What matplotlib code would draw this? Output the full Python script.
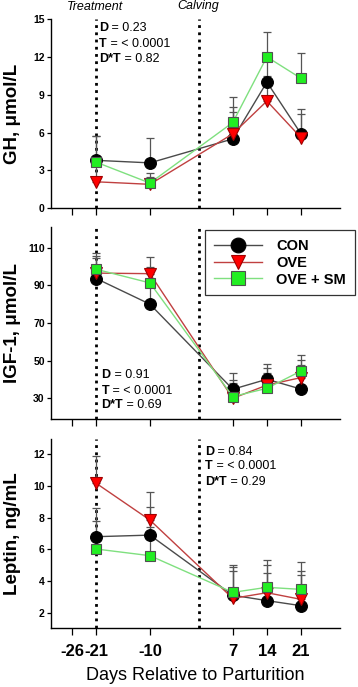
import numpy as np
import matplotlib
matplotlib.use("Agg")
import matplotlib.pyplot as plt

plt.rcParams.update({
    "font.family": ["Liberation Sans", "DejaVu Sans"],
    "axes.linewidth": 1.0,
    "axes.unicode_minus": False,
})

# ========= DATA
days = [-21, -10, 7, 14, 21]
xtick_vals = [-26, -21, -10, 7, 14, 21]
groups = ["CON", "OVE", "OVE + SM"]

gh_con = [3.8, 3.6, 5.5, 10.0, 5.9]
gh_ove = [2.1, 1.9, 5.9, 8.5, 5.6]
gh_sm = [3.65, 2.0, 6.8, 12.0, 10.3]
gh_con_err = [1.9, 2.0, 2.1, 2.0, 1.95]
gh_ove_err = [2.0, 0.6, 2.1, 2.0, 1.9]
gh_sm_err = [2.1, 0.8, 2.05, 2.0, 2.0]

igf_con = [93.6, 80.0, 34.8, 40.1, 34.9]
igf_ove = [96.5, 96.2, 30.0, 37.0, 41.0]
igf_sm = [98.5, 91.3, 30.9, 35.3, 44.5]
igf_con_err = [11.0, 9.0, 8.4, 8.1, 12.8]
igf_ove_err = [9.0, 8.8, 9.7, 8.9, 9.3]
igf_sm_err = [8.8, 8.5, 7.0, 7.9, 8.4]

lep_con = [6.8, 6.9, 3.1, 2.76, 2.44]
lep_ove = [10.17, 7.85, 2.9, 3.26, 2.84]
lep_sm = [6.02, 5.6, 3.28, 3.6, 3.47]
lep_con_err = [1.8, 1.8, 1.8, 1.73, 1.94]
lep_ove_err = [1.73, 1.78, 1.75, 1.75, 1.8]
lep_sm_err = [1.78, 1.8, 1.73, 1.73, 1.75]

treatment_day = -21
calving_day = 0

# ========= STYLE
styles = {
    "CON": dict(marker="o", mfc="black", mec="black", color="#4a4a4a", ms=8.5),
    "OVE": dict(marker="v", mfc="#ff0000", mec="#a00000", color="#c04040", ms=8.5),
    "OVE + SM": dict(marker="s", mfc="#22ee22", mec="#505050", color="#7fe07f", ms=7.5),
}

panels = [
    dict(means=[gh_con, gh_ove, gh_sm], errs=[gh_con_err, gh_ove_err, gh_sm_err],
         ylim=(0, 15), yticks=[0, 3, 6, 9, 12, 15], ylabel="GH, \u03bcmol/L",
         rect=[51/358, 0.6968, 289/358, 0.2755],
         stats=("0.23", "< 0.0001", "0.82"), sx=0.166, sy=[0.952, 0.868, 0.789]),
    dict(means=[igf_con, igf_ove, igf_sm], errs=[igf_con_err, igf_ove_err, igf_sm_err],
         ylim=(19, 121), yticks=[30, 50, 70, 90, 110], ylabel="IGF-1, \u03bcmol/L",
         rect=[51/358, 0.3901, 289/358, 0.2795],
         stats=("0.91", "< 0.0001", "0.69"), sx=0.175, sy=[0.229, 0.147, 0.073]),
    dict(means=[lep_con, lep_ove, lep_sm], errs=[lep_con_err, lep_ove_err, lep_sm_err],
         ylim=(1, 13), yticks=[2, 4, 6, 8, 10, 12], ylabel="Leptin, ng/mL",
         rect=[51/358, 0.0852, 289/358, 0.2764],
         stats=("0.84", "< 0.0001", "0.29"), sx=0.533, sy=[0.931, 0.855, 0.772]),
]

fig = plt.figure(figsize=(3.58, 6.87), dpi=100)

axes = []
for i, p in enumerate(panels):
    ax = fig.add_axes(p["rect"])
    axes.append(ax)

    ax.axvline(treatment_day, color="black", ls=(0, (1, 1.6)), lw=2.0, zorder=1)
    ax.axvline(calving_day, color="black", ls=(0, (1, 1.6)), lw=2.0, zorder=1)

    for g, m, e in zip(groups, p["means"], p["errs"]):
        ax.errorbar(days, m, yerr=[np.zeros(len(e)), e], fmt="none",
                    ecolor="#555555", elinewidth=0.9, capsize=3, capthick=0.9, zorder=2)
    for g, m in zip(groups, p["means"]):
        st = styles[g]
        ax.plot(days, m, color=st["color"], lw=1.0, marker=st["marker"],
                ms=st["ms"], mfc=st["mfc"], mec=st["mec"], mew=0.8,
                label=g, zorder=3)

    ax.set_xlim(-30.3, 29)
    ax.set_ylim(*p["ylim"])
    ax.set_yticks(p["yticks"])
    ax.set_xticks(xtick_vals)
    for s in ["top", "right"]:
        ax.spines[s].set_visible(False)
    ax.tick_params(axis="y", direction="out", length=3, width=0.9, pad=1.5, labelsize=7.5)
    ax.tick_params(axis="x", direction="out", length=5, width=0.9, pad=6, labelsize=12)
    for lab in ax.get_yticklabels():
        lab.set_fontweight("bold")
    if i < 2:
        ax.set_xticklabels([])
    else:
        for lab in ax.get_xticklabels():
            lab.set_fontweight("bold")
        ax.set_xlabel("Days Relative to Parturition", fontsize=13, labelpad=6)

    ax.set_ylabel(p["ylabel"], fontsize=13.5, fontweight="bold")
    ax.yaxis.set_label_coords(-0.104, 0.5)

    for lbl, val, yy in zip(["D", "T", "D*T"], p["stats"], p["sy"]):
        t = ax.text(p["sx"], yy, lbl, transform=ax.transAxes, fontsize=9,
                    fontweight="bold", va="center", ha="left")
        ax.annotate(" = " + val, xy=(1, 0.5), xycoords=t, fontsize=9,
                    va="center", ha="left")

# legend on the middle panel
leg = axes[1].legend(loc="upper left", bbox_to_anchor=(205/358, 1 - 230/687),
                     bbox_transform=fig.transFigure, borderaxespad=0,
                     prop={"weight": "bold", "size": 10.5}, markerscale=1.25,
                     handlelength=3.3, handletextpad=1.0, labelspacing=0.2,
                     borderpad=0.6, fancybox=False, framealpha=1)
leg.get_frame().set_edgecolor("#333333")
leg.get_frame().set_linewidth(0.9)

fig.text(95/358, 1 - 6.5/687, "Treatment", style="italic", fontsize=9,
         ha="center", va="center")
fig.text(198/358, 1 - 6.5/687, "Calving", style="italic", fontsize=9,
         ha="center", va="center")

fig.savefig("out.png", dpi=100)
